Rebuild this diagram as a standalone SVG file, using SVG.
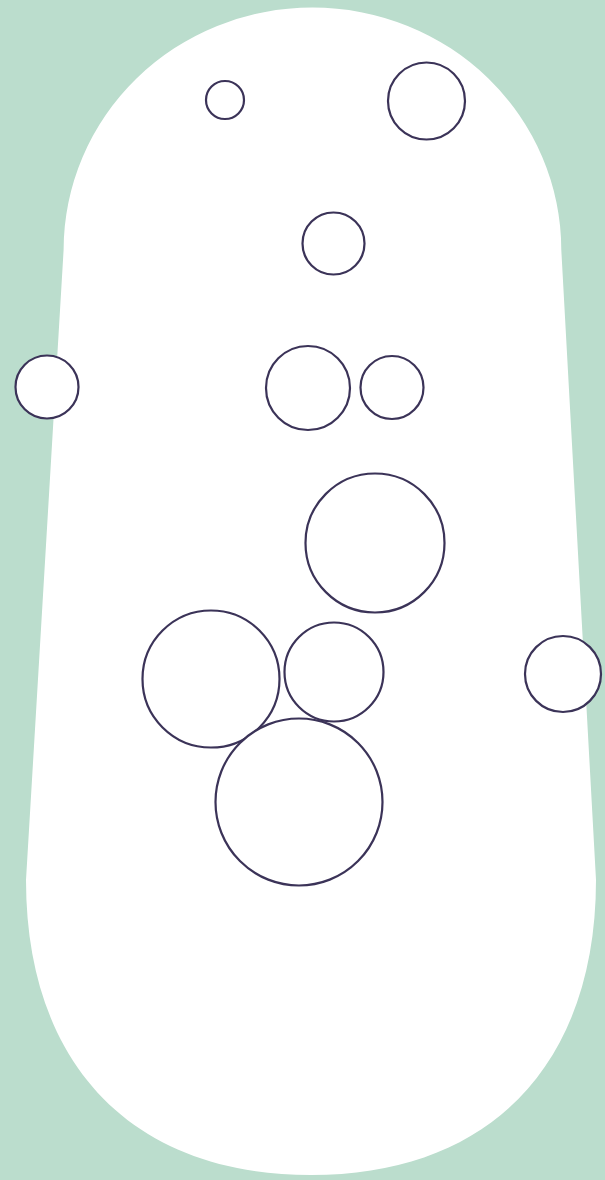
<svg xmlns="http://www.w3.org/2000/svg" width="605" height="1180" viewBox="0 0 605 1180">
  <style>
    .bg { fill: #bbddcd; }
    .body { fill: #ffffff; stroke: none; }
    .node { fill: #ffffff; stroke: #3b3358; stroke-width: 2.2; }
  </style>
  <rect class="bg" x="0" y="0" width="605" height="1180"/>
  <g id="capsule">
    <path class="body" d="M 63.6 250 A 248.85 242.5 0 0 1 312.45 7.5 A 248.85 242.5 0 0 1 561.3 250 L 596 880 C 596 1060 494 1175 311 1175 C 128 1175 26 1060 26 880 Z"/>
  </g>
  <g id="connectors"></g>
  <g id="n1"><circle class="node" cx="225" cy="100" r="19"/></g>
  <g id="n2"><circle class="node" cx="426.5" cy="101" r="38.5"/></g>
  <g id="n3"><circle class="node" cx="333.5" cy="243.5" r="31"/></g>
  <g id="n4"><circle class="node" cx="47" cy="387" r="31.5"/></g>
  <g id="n5"><circle class="node" cx="308" cy="388" r="42"/></g>
  <g id="n6"><circle class="node" cx="392" cy="387.5" r="31.5"/></g>
  <g id="n7"><circle class="node" cx="375" cy="543" r="69.5"/></g>
  <g id="n8"><circle class="node" cx="211" cy="679" r="68.5"/></g>
  <g id="n9"><circle class="node" cx="334" cy="672" r="49.5"/></g>
  <g id="n10"><circle class="node" cx="563" cy="674" r="38"/></g>
  <g id="n11"><circle class="node" cx="299" cy="802" r="83.5"/></g>
</svg>
